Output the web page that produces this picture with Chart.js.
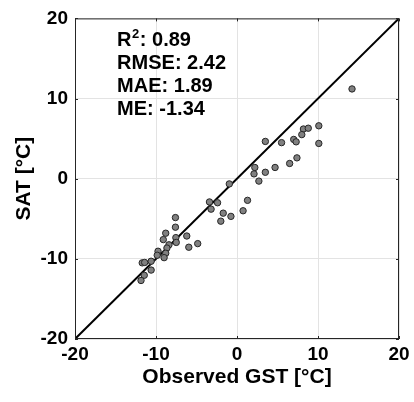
<!DOCTYPE html>
<html>
<head>
<meta charset="utf-8">
<script src="https://cdn.jsdelivr.net/npm/chart.js@4"></script>
<style>
  html, body { margin: 0; padding: 0; background: #fff; }
  #wrap { width: 414px; height: 402px; }
</style>
</head>
<body>
<div id="wrap"><canvas id="scatterCanvas" width="414" height="402"></canvas></div>
<script>
// observed GST (x) vs SAT (y)
const observedGST = [
  14.2, 10.1, 8.2, 8.8, 8.0, 10.1, 7.0, 7.3, 5.5, 3.5,
  7.4, 6.5, 4.7, 3.5, 2.2, 2.1, 2.7, -0.95, 1.3, 0.75,
  -0.75, -1.7, -2.0, -3.4, -2.4, -3.2,
  -7.6, -7.6, -8.8, -9.1, -7.55, -7.5, -6.2, -5.95, -4.85, -8.4,
  -8.65, -9.75, -8.8, -9.85, -9.0, -10.6, -11.7, -11.4, -10.6, -11.45,
  -11.85
];
const sat = [
  11.2, 6.6, 6.2, 6.3, 5.5, 4.4, 4.9, 4.6, 4.5, 4.65,
  2.6, 1.9, 1.4, 0.8, 1.4, 0.6, -0.3, -0.65, -2.7, -4.0,
  -4.7, -4.3, -5.3, -2.9, -3.0, -3.8,
  -4.85, -6.05, -6.8, -7.6, -7.35, -7.95, -7.15, -8.55, -8.1, -8.25,
  -8.65, -9.05, -9.3, -9.55, -9.85, -10.3, -10.5, -10.45, -11.4, -12.05,
  -12.7
];
const oneToOne = [-20, 20];
const axisTicks = [-20, -10, 0, 10, 20];
const statsLines = ['R', 'RMSE: 2.42', 'MAE: 1.89', 'ME: -1.34'];
const r2Value = ': 0.89';

const fontFamily = '"Liberation Sans", Arial, sans-serif';

// frame on all four sides + stats text
const framePlugin = {
  id: 'frame',
  afterDraw(chart) {
    const { ctx, chartArea: a, scales } = chart;
    ctx.save();
    ctx.strokeStyle = '#262626';
    ctx.lineWidth = 1;
    ctx.strokeRect(a.left + 0.5, a.top + 0.5, a.right - a.left - 1, a.bottom - a.top - 1);

    // small inward tick marks like MATLAB
    ctx.beginPath();
    axisTicks.forEach(t => {
      const px = Math.round(scales.x.getPixelForValue(t)) + 0.5;
      const py = Math.round(scales.y.getPixelForValue(t)) + 0.5;
      ctx.moveTo(px, a.bottom); ctx.lineTo(px, a.bottom - 3);
      ctx.moveTo(px, a.top); ctx.lineTo(px, a.top + 3);
      ctx.moveTo(a.left, py); ctx.lineTo(a.left + 3, py);
      ctx.moveTo(a.right, py); ctx.lineTo(a.right - 3, py);
    });
    ctx.stroke();

    // stats text
    ctx.fillStyle = '#000';
    ctx.textBaseline = 'alphabetic';
    ctx.textAlign = 'left';
    const x0 = scales.x.getPixelForValue(-14.8);
    const baseY = [46, 68.5, 92, 115];
    ctx.font = 'bold 20px ' + fontFamily;
    ctx.fillText(statsLines[0], x0, baseY[0]);
    let w = ctx.measureText(statsLines[0]).width;
    ctx.font = 'bold 13px ' + fontFamily;
    ctx.fillText('2', x0 + w + 0.5, baseY[0] - 8);
    const w2 = ctx.measureText('2').width;
    ctx.font = 'bold 20px ' + fontFamily;
    ctx.fillText(r2Value, x0 + w + w2 + 1, baseY[0]);
    for (let i = 1; i < statsLines.length; i++) {
      ctx.fillText(statsLines[i], x0, baseY[i]);
    }
    ctx.restore();
  }
};

const ctx = document.getElementById('scatterCanvas').getContext('2d');
new Chart(ctx, {
  type: 'scatter',
  data: {
    datasets: [
      {
        type: 'line',
        data: oneToOne.map(v => ({ x: v, y: v })),
        borderColor: '#000',
        borderWidth: 2,
        pointRadius: 0,
        fill: false,
        order: 2
      },
      {
        data: observedGST.map((x, i) => ({ x: x, y: sat[i] })),
        backgroundColor: '#808080',
        borderColor: '#262626',
        borderWidth: 1,
        pointRadius: 3.2,
        order: 1
      }
    ]
  },
  options: {
    responsive: false,
    animation: false,
    devicePixelRatio: 1,
    layout: { padding: { top: 15, right: 15, left: 0, bottom: 0 } },
    plugins: { legend: { display: false }, tooltip: { enabled: false } },
    scales: {
      x: {
        type: 'linear',
        min: -20, max: 20,
        afterFit: s => { s.height = 63; },
        afterBuildTicks: s => { s.ticks = axisTicks.map(v => ({ value: v })); },
        grid: { color: '#e3e3e3', drawTicks: false },
        border: { display: false },
        ticks: {
          padding: 4,
          color: '#000',
          font: { family: fontFamily, size: 19, weight: 'bold' }
        },
        title: {
          display: true,
          text: 'Observed GST [°C]',
          color: '#000',
          font: { family: fontFamily, size: 21, weight: 'bold' },
          padding: { top: 0, bottom: 12 }
        }
      },
      y: {
        type: 'linear',
        min: -20, max: 20,
        afterFit: s => { s.width = 75; },
        afterBuildTicks: s => { s.ticks = axisTicks.map(v => ({ value: v })); },
        grid: { color: '#e3e3e3', drawTicks: false },
        border: { display: false },
        ticks: {
          padding: 7,
          color: '#000',
          font: { family: fontFamily, size: 19, weight: 'bold' }
        },
        title: {
          display: true,
          text: 'SAT [°C]',
          color: '#000',
          font: { family: fontFamily, size: 21, weight: 'bold' },
          padding: { top: 12, bottom: 0 }
        }
      }
    }
  },
  plugins: [framePlugin]
});
</script>
</body>
</html>
